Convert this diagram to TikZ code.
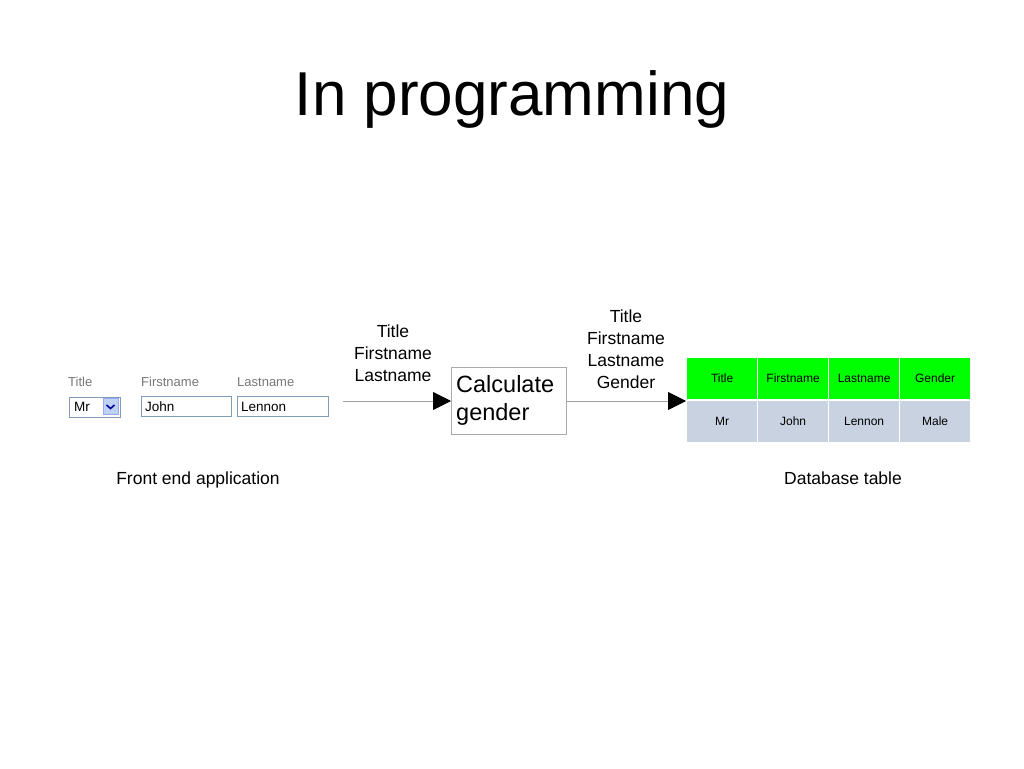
\documentclass[tikz,border=0pt]{standalone}
\usepackage{fontspec}
\setmainfont{Liberation Sans}
\usetikzlibrary{arrows.meta,positioning}
\definecolor{hdrgreen}{RGB}{0,255,0}
\definecolor{rowblue}{RGB}{200,210,225}
\definecolor{formgray}{RGB}{120,120,120}
\definecolor{boxborder}{RGB}{127,157,185}
\definecolor{ddblue}{RGB}{190,210,245}
\tikzset{
  formlabel/.style={anchor=base west, inner sep=0pt, text=formgray, font=\fontsize{13}{15}\selectfont},
  formbox/.style={draw=boxborder, line width=1pt, fill=white, minimum height=20pt, anchor=north west, inner sep=0pt},
  formtext/.style={anchor=base west, inner sep=0pt, font=\fontsize{13.5}{15}\selectfont},
  flowlabel/.style={align=center, inner sep=0pt, font=\fontsize{17.5}{22}\selectfont},
  conn/.style={draw={rgb,255:red,160;green,160;blue,160}, line width=0.8pt, -{Triangle[length=18pt,width=18pt,black]}},
  hdrcell/.style={fill=hdrgreen, draw=white, line width=1.2pt, minimum width=71pt, minimum height=42pt, inner sep=0pt, anchor=north west, font=\fontsize{12}{13}\selectfont},
  rowcell/.style={fill=rowblue, draw=white, line width=1.2pt, minimum width=71pt, minimum height=42pt, inner sep=0pt, anchor=north west, font=\fontsize{12}{13}\selectfont},
  caption/.style={anchor=base, inner sep=0pt, font=\fontsize{17.5}{21}\selectfont}
}
\begin{document}
\begin{tikzpicture}[x=1pt,y=-1pt]
\useasboundingbox[fill=white] (0,0) rectangle (1024,768);
% title
\node[inner sep=0pt, font=\fontsize{62}{70}\selectfont] (title) at (512,99) {In programming};
% front end form
\node[formlabel] (ltitle) at (68,386) {Title};
\node[formlabel] (lfirst) at (141,386) {Firstname};
\node[formlabel] (llast) at (237,386) {Lastname};
\node[formbox, minimum width=51pt] (ctitle) at (69,397) {};
\node[fill=ddblue, draw=ddblue!80!blue, minimum width=15pt, minimum height=16pt, inner sep=0pt] (ddbtn) at (110.5,406.5) {};
\draw[line width=1.6pt, blue!60!black] ([xshift=-4pt,yshift=1.5pt]ddbtn.center) -- ([yshift=-2pt]ddbtn.center) -- ([xshift=4pt,yshift=1.5pt]ddbtn.center);
\node[formtext] (vtitle) at (74,411.5) {Mr};
\node[formbox, minimum width=90pt] (cfirst) at (141,396) {};
\node[formtext] (vfirst) at (145,411.5) {John};
\node[formbox, minimum width=91pt] (clast) at (237,396) {};
\node[formtext] (vlast) at (241,411.5) {Lennon};
\coordinate (fstart) at (343,401);
% process box
\node[draw={rgb,255:red,170;green,170;blue,170}, line width=0.8pt, minimum width=115pt, minimum height=67pt, anchor=north west, inner sep=0pt] (calc) at (451,367) {};
\node[anchor=north west, inner sep=0pt, align=left, font=\fontsize{23.5}{28}\selectfont] (calctext) at (456,375) {Calculate\\gender};
% table
\node[hdrcell] (h1) at (686,357) {Title};
\node[hdrcell] (h2) at (757,357) {Firstname};
\node[hdrcell] (h3) at (828,357) {Lastname};
\node[hdrcell] (h4) at (899,357) {Gender};
\node[rowcell] (r1) at (686,400) {Mr};
\node[rowcell] (r2) at (757,400) {John};
\node[rowcell] (r3) at (828,400) {Lennon};
\node[rowcell] (r4) at (899,400) {Male};
\coordinate (tin) at (686,401);
% connectors
\draw[conn] (fstart) -- (calc.west |- fstart);
\draw[conn] (calc.east |- fstart) -- (tin);
% flow labels
\node[flowlabel] (lab1) at (393,353) {Title\\Firstname\\Lastname};
\node[flowlabel] (lab2) at (626,349.5) {Title\\Firstname\\Lastname\\Gender};
% captions
\node[caption] (cap1) at (198,484) {Front end application};
\node[caption] (cap2) at (843,484) {Database table};
\end{tikzpicture}
\end{document}
